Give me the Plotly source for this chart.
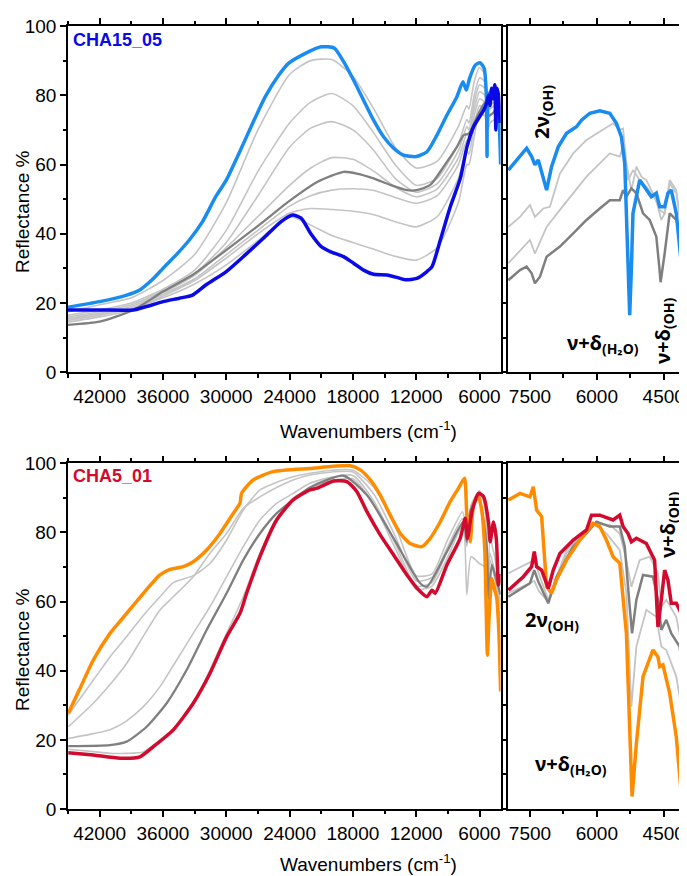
import plotly.graph_objects as go

# ---------------- TOP MAIN (CHA15_05) ----------------
top_light_blue_wn = [45000, 42000, 39440, 38200, 36900, 36000, 34750, 33500, 32250, 31000, 30000, 28800, 27500, 26300, 25000, 24100, 22500, 21000, 19750, 18880, 17940, 16990, 16040, 15090, 14140, 13190, 12000, 10980, 10030, 9080, 8140, 7570, 7250, 6940, 6400, 5940, 5560, 5350, 5280, 5150, 4680, 4300, 4100, 4000]
top_light_blue_val = [18.8, 20.4, 22.3, 23.8, 27.1, 30, 33.9, 38.2, 43.5, 50.7, 55.5, 63.2, 71.9, 79.6, 85.9, 89.2, 92.1, 94.0, 93.6, 89.7, 84.4, 78.6, 72.8, 68, 64.7, 62.7, 62.3, 63.7, 68.5, 74.3, 79.6, 83.9, 81.5, 84.9, 88.7, 89.4, 87.8, 80, 62.3, 80, 82, 78, 70, 60]

top_dark_blue_wn = [45000, 42000, 38800, 37560, 36000, 34440, 33200, 31940, 30000, 28200, 26300, 24800, 23700, 22900, 22000, 21000, 20100, 18880, 17940, 16990, 16040, 14780, 13830, 13040, 11940, 10980, 10500, 9710, 8770, 7820, 7190, 6560, 5610, 5300, 5150, 5000, 4850, 4700, 4550, 4450, 4350, 4200, 4050]
top_dark_blue_val = [18.0, 18, 18, 19, 20.4, 21.4, 22.3, 25.2, 29.1, 33.9, 39.2, 43.5, 45.4, 44.5, 40.1, 36.3, 34.8, 33.4, 31.5, 29.5, 28.3, 28.1, 27.4, 26.7, 27.1, 29.1, 30.5, 38.2, 47.8, 56, 65.1, 70.9, 75.7, 78, 80, 77, 82, 79, 83, 70, 82, 80, 72]

top_dark_gray_wn = [45000, 42000, 38800, 36000, 33200, 30000, 26900, 24100, 21300, 18880, 17620, 16040, 14460, 12880, 11940, 10660, 9400, 8140, 7500, 7030, 6240, 5450, 5200, 4680, 4300, 4050]
top_dark_gray_val = [13.7, 14.6, 18, 23.3, 28.1, 35.3, 42.5, 49.3, 55.1, 57.9, 57.4, 56, 54.1, 52.6, 52.6, 54.1, 59.4, 65.1, 68.5, 68.9, 73.8, 78.1, 74, 75, 77, 72]

top_gray_wn = [45000, 42000, 39000, 36000, 33000, 30000, 27000, 24000, 22000, 20000, 18000, 16000, 14000, 12000, 10000, 8000, 7200, 7000, 6500, 6000, 5500, 5200, 5000, 4500, 4000]
top_gray_1 = [17.5, 19.5, 21.5, 26.5, 34, 49, 70, 86, 90, 90.3, 85.5, 76, 65, 59, 61, 71, 77, 76, 84, 88, 86, 75, 80, 82, 76]
top_gray_2 = [16.5, 18, 20, 24, 29.5, 41, 58, 72, 78, 80.5, 77, 69, 60, 54, 56, 66, 73, 72, 80, 85, 84, 76, 79, 80, 75]
top_gray_3 = [16, 17.5, 19.5, 23.5, 28.5, 37.5, 51, 65, 70.5, 72.4, 70, 64, 56, 52, 54.5, 64, 71, 70, 78, 83, 82, 75, 78, 79, 74]
top_gray_4 = [15.5, 17, 19, 23, 28, 36, 45, 54, 59, 62, 61.5, 58, 53.5, 50.7, 53, 62, 69, 68, 76, 81, 80, 74, 77, 78, 73]
top_gray_5 = [15, 16.5, 18.5, 22.5, 27, 34, 41, 48, 51, 52.6, 53, 52.5, 50.5, 48.8, 51, 60, 67, 66, 74, 79, 78, 73, 76, 77, 72]
top_gray_6 = [14.5, 16, 18, 22, 26.5, 33, 40, 46, 47.3, 47, 46.5, 45.5, 43.5, 42, 45, 56, 64, 63, 71, 77, 76, 71, 74, 75, 71]
top_gray_7 = [15.5, 17, 18.5, 21.5, 25.5, 31, 38, 45, 42.5, 39.5, 37.5, 35.5, 33.5, 32.4, 36, 49, 60, 60, 68, 75, 74, 70, 72, 73, 70]

# ---------------- TOP ZOOM (NIR) ----------------
tz_blue_wn = [7985, 7800, 7575, 7463, 7389, 7314, 7239, 7127, 7016, 6866, 6680, 6456, 6344, 6158, 5934, 5710, 5561, 5449, 5374, 5315, 5263, 5225, 5190, 5039, 4890, 4778, 4666, 4591, 4479, 4405, 4330, 4218, 4106, 4032, 4000]
tz_blue_val = [58.4, 61.3, 64.7, 62.3, 59.9, 61.3, 57.9, 52.6, 59.4, 65.1, 69, 70.9, 72.8, 74.8, 75.5, 74.8, 71.9, 68, 60.3, 40, 16.5, 30, 45.9, 55.5, 52.6, 50.7, 51.7, 47.8, 47.8, 51.7, 52.6, 45.9, 31.5, 17, 9]
tz_gray_a_wn = [7985, 7724, 7500, 7389, 7202, 7053, 6829, 6530, 6232, 5934, 5636, 5486, 5412, 5337, 5225, 5113, 5001, 4890, 4741, 4591, 4479, 4367, 4218, 4069, 4000]
tz_gray_a_val = [42, 44.9, 48.3, 44.9, 47.3, 47.8, 57.4, 63.2, 67.1, 69.5, 71.9, 70, 70.4, 60.3, 52.6, 59.4, 56.5, 55.5, 51.7, 46.9, 45.9, 55.5, 52.6, 38.2, 32]
tz_gray_b_wn = [7985, 7500, 7389, 7127, 6829, 6530, 6232, 5934, 5710, 5486, 5412, 5300, 5188, 5039, 4890, 4666, 4554, 4479, 4367, 4218, 4069, 4000]
tz_gray_b_val = [31.5, 38.2, 34.3, 42, 46.9, 51.7, 56.5, 60.3, 63.2, 62.3, 65.1, 55.5, 58.4, 55.5, 53.6, 49.7, 44, 45.9, 54.6, 51.7, 40.1, 34]
tz_dgray_wn = [7985, 7724, 7575, 7463, 7389, 7276, 7127, 6829, 6530, 6232, 5934, 5710, 5486, 5412, 5337, 5225, 5113, 4964, 4815, 4666, 4600, 4570, 4479, 4367, 4218, 4069, 4000]
tz_dgray_val = [26.6, 29.5, 30.5, 28.6, 25.7, 27.6, 33.4, 36.3, 40.1, 44, 47.3, 49.7, 49.7, 52.6, 50.7, 53.1, 51.7, 45.9, 44, 39.2, 30.5, 26, 34.3, 45.9, 44, 38.2, 33]

# ---------------- BOTTOM MAIN (CHA5_01) ----------------
bot_orange_wn = [44970, 43860, 42600, 41020, 39440, 37860, 36280, 35340, 34070, 33130, 31860, 30600, 29340, 28700, 28550, 27440, 25550, 22070, 18250, 17300, 16350, 15410, 14460, 13510, 12560, 11460, 10670, 9720, 8780, 7990, 7420, 7250, 7200, 6880, 6560, 6100, 5770, 5500, 5250, 5100, 4830, 4600, 4360, 4150, 4000]
bot_orange_val = [27.7, 34.9, 43.1, 50.8, 56.6, 62.4, 67.7, 69.3, 70.1, 71.5, 74.9, 79.7, 85.5, 88.5, 91.3, 95.2, 97.6, 98.5, 99.3, 98.1, 95.2, 90.8, 85, 79.7, 76.8, 75.9, 78.3, 83.1, 88.9, 92.8, 95.7, 88, 85, 77.3, 88, 90.4, 86, 75, 44.5, 55, 66.7, 64, 61, 50, 34]

bot_red_wn = [44970, 42600, 40070, 38180, 36920, 35020, 33130, 31550, 29970, 28700, 28070, 26810, 25230, 23660, 22070, 21400, 19830, 18570, 17620, 16670, 15410, 14140, 12880, 11620, 10980, 10500, 10200, 9090, 7830, 7350, 7130, 6720, 6090, 5620, 5150, 4990, 4670, 4400, 4200, 4000]
bot_red_val = [16.3, 15.6, 14.7, 15.1, 18, 22.9, 30.6, 39.2, 49.8, 56.6, 62.4, 73, 83.6, 89.4, 92.3, 92.8, 94.9, 94.7, 91.8, 86, 79.3, 73.5, 67.7, 62.9, 61.4, 63.3, 62.4, 70.6, 78.3, 84.1, 78.3, 86, 91.3, 90.4, 83.1, 77.3, 83, 78, 64.8, 68]

bot_dgray_wn = [44970, 41020, 39440, 37550, 35650, 33760, 31860, 29970, 28390, 26810, 25230, 23660, 22070, 18880, 16670, 14140, 11620, 10980, 9090, 7510, 7200, 6880, 6090, 5300, 5150, 4830, 4360, 4000]
bot_dgray_val = [18.2, 18.5, 19.5, 23.8, 30.6, 40.2, 51.8, 62.4, 72, 79.7, 85.5, 89.4, 93, 96.4, 90.8, 78.3, 65.3, 64.3, 74.4, 83.1, 77.3, 86, 90.8, 75.4, 61, 70.6, 65.8, 62]

bot_gray_wn = [44970, 42600, 41020, 39440, 37860, 36280, 35020, 33130, 31550, 29970, 28390, 26810, 25230, 23660, 22070, 20000, 18000, 16000, 14000, 12000, 10500, 9000, 7600, 7200, 6800, 6000, 5500, 5200, 5000, 4500, 4000]
bot_gray_1 = [27.2, 37.3, 44, 49.9, 56, 61.4, 65.5, 67.5, 71, 77.8, 86.5, 92.3, 94.5, 96.1, 97.1, 98, 98, 93, 82, 67.5, 68, 78, 86, 80, 88, 92, 88, 60, 78, 72, 58]
bot_gray_2 = [23.8, 30.6, 36, 42.1, 50, 57.6, 61.4, 67.2, 74, 79.7, 87, 90.3, 93, 95.2, 96.6, 97.5, 97.5, 91, 79, 66, 67, 76, 84, 62, 73, 71, 70, 58, 65, 62, 55]
bot_gray_3 = [20.4, 21.8, 22.9, 25.5, 29.6, 35.4, 41.5, 50.8, 58.5, 67.2, 75.9, 83.6, 88.4, 91.3, 94.2, 96, 96.5, 89, 77, 64.5, 65.5, 75, 83, 77, 87, 92, 89, 62, 74, 68, 60]
bot_gray_4 = [17.3, 16.6, 16.1, 16.1, 16.5, 20, 23, 30.6, 40.2, 50.8, 61.4, 74, 84.1, 89.9, 92.8, 95, 95.5, 88, 75.5, 63.5, 64.5, 73, 82, 76, 85, 91, 88, 64, 72, 66, 58]

# ---------------- BOTTOM ZOOM (NIR) ----------------
bz_orange_wn = [7985, 7724, 7500, 7426, 7351, 7239, 7127, 7016, 6904, 6680, 6381, 6083, 5934, 5785, 5636, 5486, 5337, 5263, 5210, 5113, 4964, 4741, 4629, 4591, 4517, 4367, 4218, 4106, 4030]
bz_orange_val = [89.4, 91.3, 90.3, 93.2, 86.5, 84.6, 64.3, 62.4, 66.3, 72, 77.8, 82.6, 81.7, 77.8, 73, 71.1, 50.8, 23.8, 3.6, 19, 38.3, 46, 44, 41.2, 41.7, 33.5, 20.9, 4.5, 0]
bz_red_wn = [7985, 7650, 7463, 7404, 7351, 7239, 7090, 6978, 6829, 6530, 6232, 6120, 5934, 5636, 5486, 5412, 5300, 5225, 5113, 4890, 4704, 4629, 4554, 4479, 4405, 4330, 4218, 4106, 4032, 4000]
bz_red_val = [63.3, 67.2, 70.1, 74.5, 70.1, 69.1, 63.8, 69.1, 73.9, 77.8, 80.7, 85, 85, 83.6, 85, 81.7, 79.7, 77.3, 78.3, 76.8, 72, 52.7, 60.5, 69.1, 66.2, 59.5, 59.5, 56.6, 45, 44]
bz_dgray_wn = [7985, 7500, 7404, 7314, 7090, 6904, 6530, 6232, 6009, 5710, 5486, 5374, 5263, 5210, 5113, 4964, 4741, 4629, 4554, 4442, 4330, 4143, 4032, 4000]
bz_dgray_val = [61.4, 65.3, 69.1, 65.8, 59.5, 67.2, 75.9, 79.7, 83.1, 81.7, 81.7, 75.9, 58.5, 50.8, 60.5, 67.7, 67.2, 60.5, 51.8, 54.7, 50.8, 47, 33.5, 30]
bz_gray_a_wn = [7985, 7404, 7300, 7090, 6680, 6083, 5710, 5486, 5337, 5225, 5039, 4815, 4629, 4554, 4442, 4218, 4032, 4000]
bz_gray_a_val = [68.2, 72, 68, 60.5, 74.9, 82.6, 82.2, 79.7, 72, 64.3, 72, 73, 68.2, 58.5, 60.5, 55.6, 43, 40]
bz_gray_b_wn = [7985, 7404, 7300, 7090, 6680, 6083, 5785, 5486, 5337, 5225, 5113, 4890, 4666, 4554, 4442, 4218, 4032, 4000]
bz_gray_b_val = [62.4, 66, 63, 60, 74, 82.6, 79.7, 74.9, 62.4, 29.6, 47, 57.6, 55.6, 47, 46, 38.3, 23.8, 20]

LIGHT_BLUE = "#1a8cf0"
DARK_BLUE = "#0a0ae6"
ORANGE = "#ff8c00"
RED = "#d20a2e"
DGRAY = "#7f7f7f"
LGRAY = "#c4c4c4"

fig = go.Figure()

def add(x, y, color, width, xa, ya, shape="spline"):
    line = dict(color=color, width=width, shape=shape)
    if shape == "spline":
        line["smoothing"] = 0.6
    fig.add_trace(go.Scatter(x=x, y=y, mode="lines", line=line,
                             xaxis=xa, yaxis=ya, showlegend=False, hoverinfo="skip"))

for g in [top_gray_1, top_gray_2, top_gray_3, top_gray_4, top_gray_5, top_gray_6, top_gray_7]:
    add(top_gray_wn, g, LGRAY, 1.6, "x", "y")
add(top_dark_gray_wn, top_dark_gray_val, DGRAY, 2.3, "x", "y")
add(top_light_blue_wn, top_light_blue_val, LIGHT_BLUE, 3.5, "x", "y")
add(top_dark_blue_wn, top_dark_blue_val, DARK_BLUE, 3.5, "x", "y")

add(tz_gray_a_wn, tz_gray_a_val, LGRAY, 1.8, "x2", "y2", "linear")
add(tz_gray_b_wn, tz_gray_b_val, LGRAY, 1.8, "x2", "y2", "linear")
add(tz_dgray_wn, tz_dgray_val, DGRAY, 2.5, "x2", "y2", "linear")
add(tz_blue_wn, tz_blue_val, LIGHT_BLUE, 3.5, "x2", "y2", "linear")

for g in [bot_gray_1, bot_gray_2, bot_gray_3, bot_gray_4]:
    add(bot_gray_wn, g, LGRAY, 1.6, "x3", "y3")
add(bot_dgray_wn, bot_dgray_val, DGRAY, 2.3, "x3", "y3")
add(bot_orange_wn, bot_orange_val, ORANGE, 3.5, "x3", "y3")
add(bot_red_wn, bot_red_val, RED, 3.5, "x3", "y3")

add(bz_gray_a_wn, bz_gray_a_val, LGRAY, 1.8, "x4", "y4", "linear")
add(bz_gray_b_wn, bz_gray_b_val, LGRAY, 1.8, "x4", "y4", "linear")
add(bz_dgray_wn, bz_dgray_val, DGRAY, 2.5, "x4", "y4", "linear")
add(bz_orange_wn, bz_orange_val, ORANGE, 3.5, "x4", "y4", "linear")
add(bz_red_wn, bz_red_val, RED, 3.5, "x4", "y4", "linear")

# The page body adds an 8 px margin, so the figure is offset by 8 px.
OFF = 8
W, H = 687 - OFF, 876 - OFF
ML, MR, MT, MB = 60, 1, 18, 67
PW = W - ML - MR
PH = H - MT - MB

def px(x):  # x in window pixels -> paper fraction
    return (x - OFF - ML) / PW

def py(y):  # y in window pixels -> paper fraction
    return (H - MB - (y - OFF)) / PH

TICKFONT = dict(family="Liberation Sans, Arial", size=19, color="black")

def axis(**kw):
    d = dict(showline=True, linecolor="black", linewidth=1.5, mirror="ticks",
             ticks="outside", ticklen=6, tickwidth=1.5, tickcolor="black",
             showgrid=False, zeroline=False, tickfont=TICKFONT, fixedrange=True,
             automargin=False)
    d.update(kw)
    return d

main_x = dict(range=[45000, 4000], tickmode="linear", tick0=0, dtick=6000,
              tickformat="d", minor=dict(ticks="outside", ticklen=3.5, tickwidth=1.5, dtick=3000, tick0=0, tickcolor="black"))
zoom_x = dict(range=[8000, 4000], tickmode="linear", tick0=4500, dtick=1500,
              tickformat="d", minor=dict(ticks="outside", ticklen=3.5, tickwidth=1.5, dtick=750, tick0=4500, tickcolor="black"))
main_y = dict(range=[0, 100], tickmode="linear", tick0=0, dtick=20,
              minor=dict(ticks="outside", ticklen=3.5, tickwidth=1.5, dtick=10, tick0=0, tickcolor="black"))
zoom_y = dict(range=[0, 100], showticklabels=False, ticks="")

XD_MAIN = [px(68), px(500.6)]
XD_ZOOM = [px(507.7), min(1.0, px(686.2))]
YD_TOP = [py(372.3), min(1.0, py(26))]
YD_BOT = [max(0.0, py(809)), py(463.3)]

fig.update_layout(
    width=W, height=H, autosize=False,
    margin=dict(l=ML, r=MR, t=MT, b=MB, pad=0, autoexpand=False),
    paper_bgcolor="white", plot_bgcolor="white",
    xaxis=axis(domain=XD_MAIN, anchor="y", **main_x),
    yaxis=axis(domain=YD_TOP, anchor="x", **main_y),
    xaxis2=axis(domain=XD_ZOOM, anchor="y2", **zoom_x),
    yaxis2=axis(domain=YD_TOP, anchor="x2", **zoom_y),
    xaxis3=axis(domain=XD_MAIN, anchor="y3", **main_x),
    yaxis3=axis(domain=YD_BOT, anchor="x3", **main_y),
    xaxis4=axis(domain=XD_ZOOM, anchor="y4", **zoom_x),
    yaxis4=axis(domain=YD_BOT, anchor="x4", **zoom_y),
)

ann = []
TITLEFONT = dict(family="Liberation Sans, Arial", size=19, color="black")
for yc in [430, 863]:
    ann.append(dict(x=px(368), y=py(yc), xref="paper", yref="paper", showarrow=False,
                    text="Wavenumbers (cm<sup>-1</sup>)", font=TITLEFONT,
                    xanchor="center", yanchor="middle"))
for yc in [212, 650]:
    ann.append(dict(x=px(22), y=py(yc), xref="paper", yref="paper", showarrow=False,
                    text="Reflectance %", font=TITLEFONT, textangle=-90,
                    xanchor="center", yanchor="middle"))
ann.append(dict(x=px(71), y=py(40), xref="paper", yref="paper", showarrow=False,
                text="<b>CHA15_05</b>", font=dict(family="Liberation Sans, Arial", size=18, color=DARK_BLUE),
                xanchor="left", yanchor="middle"))
ann.append(dict(x=px(71), y=py(476), xref="paper", yref="paper", showarrow=False,
                text="<b>CHA5_01</b>", font=dict(family="Liberation Sans, Arial", size=18, color=RED),
                xanchor="left", yanchor="middle"))

BANDFONT = dict(family="Noto Sans, Open Sans", size=20, color="black")
def band(text, x, y, angle=0):
    ann.append(dict(x=px(x), y=py(y), xref="paper", yref="paper", showarrow=False,
                    text="<b>" + text + "</b>", font=BANDFONT, textangle=angle,
                    xanchor="center", yanchor="middle"))

band("2ν<sub>(OH)</sub>", 542, 112, -90)
band("ν+δ<sub>(H₂O)</sub>", 603, 343)
band("ν+δ<sub>(OH)</sub>", 663, 331, -90)
band("2ν<sub>(OH)</sub>", 552, 620)
band("ν+δ<sub>(H₂O)</sub>", 571, 764)
band("ν+δ<sub>(OH)</sub>", 668, 525, -90)

fig.update_layout(annotations=ann)
fig.write_html("out.html")
